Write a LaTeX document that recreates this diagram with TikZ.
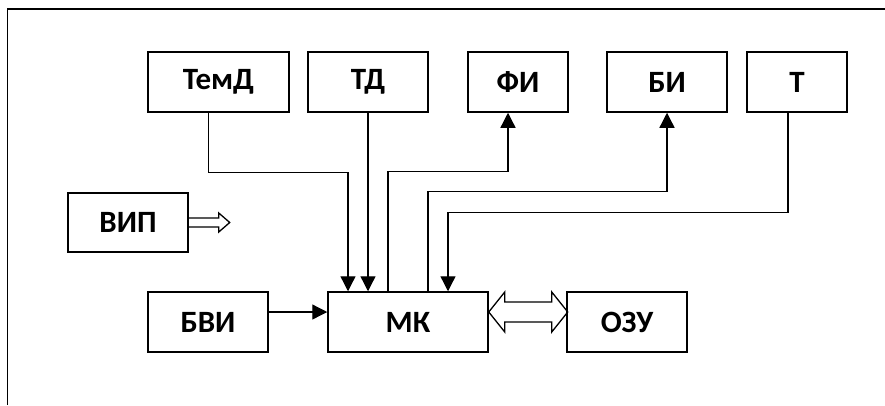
\documentclass[tikz,border=0pt]{standalone}
\usepackage{fontspec}
\setmainfont{Carlito}
\usepackage{tikz}
\usetikzlibrary{arrows.meta}

\begin{document}
\begin{tikzpicture}[x=1pt,y=-1pt,
  blk/.style={draw,line width=1.5pt,minimum height=60pt,inner sep=0pt,font=\fontsize{31}{31}\selectfont\bfseries},
  conn/.style={line width=1.3pt,-{Triangle[length=15pt,width=15pt]}},
  hollow/.style={line width=1.3pt,line join=miter}]
  \useasboundingbox (0,0) rectangle (885,405);
  \draw[line width=1.8pt] (7.5,405) |- (885,9);
  \node[blk,minimum width=141pt] (temd) at (218.5,82) {ТемД}; \node[blk,minimum width=120pt] (td) at (368,82) {ТД};
  \node[blk,minimum width=100pt] (fi) at (518,82) {ФИ}; \node[blk,minimum width=120pt] (bi) at (667,82) {БИ};
  \node[blk,minimum width=100pt] (t) at (797,82) {Т};
  \node[blk,minimum width=120pt,minimum height=59pt] (vip) at (128,222.5) {ВИП};
  \node[blk,minimum width=120pt] (bvi) at (208,322) {БВИ}; \node[blk,minimum width=160pt] (mk) at (408,322) {МК};
  \node[blk,minimum width=120pt] (ozu) at (627,322) {ОЗУ};
  \draw[conn] ([xshift=-10pt]temd.south) -- ++(0,60) -| ([xshift=-60pt]mk.north);
  \draw[conn] (td.south) -- (td.south |- mk.north);
  \draw[conn] ([xshift=-20pt]mk.north) -- ++(0,-120) -| ([xshift=-10pt]fi.south);
  \draw[conn] ([xshift=20pt]mk.north) -- ++(0,-100) -| (bi.south);
  \draw[conn] ([xshift=-9pt]t.south) -- ++(0,100) -| ([xshift=40pt]mk.north);
  \draw[conn] ([yshift=10pt]bvi.east) -- ([yshift=10pt]mk.west);
  \draw[hollow] ([yshift=10pt]mk.east) -- ++(16,-20) -- ++(0,10) -- ++(47,0) -- ++(0,-10) -- ++(16,20) -- ++(-16,20) -- ++(0,-10) -- ++(-47,0) -- ++(0,10) -- cycle;
  \draw[hollow] ([yshift=4.5pt]vip.east) -- ++(30,0) -- ++(0,-5) -- ++(11,9.5) -- ++(-11,9.5) -- ++(0,-5) -- ++(-30,0);
\end{tikzpicture}
\end{document}
